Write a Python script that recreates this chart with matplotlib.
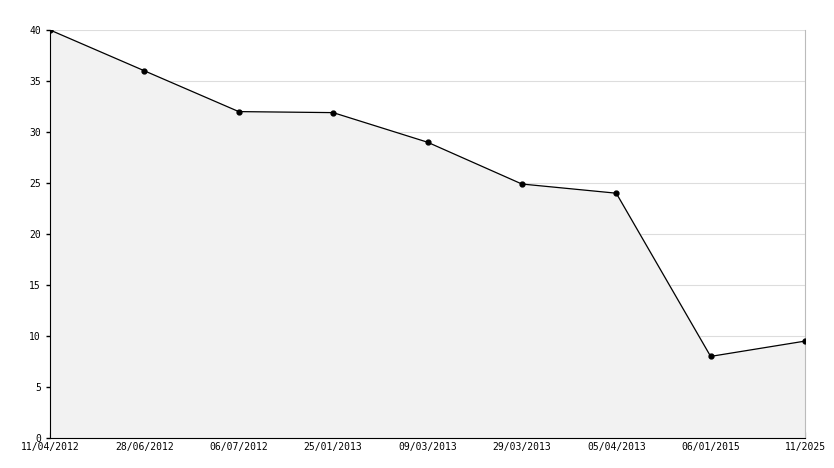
import matplotlib.pyplot as plt
from matplotlib.ticker import MultipleLocator

# 数据
dates = ['11/04/2012', '28/06/2012', '06/07/2012', '25/01/2013', '09/03/2013',
         '29/03/2013', '05/04/2013', '06/01/2015', '11/2025']
values = [40, 36, 32, 31.9, 29, 24.9, 24, 8, 9.5]

fig = plt.figure(figsize=(8.34, 4.68), dpi=100)
ax = fig.add_axes([50 / 834, 30 / 468, 755 / 834, 408 / 468])

x = list(range(len(dates)))
ax.fill_between(x, values, 0, color='#f2f2f2', zorder=1)
ax.plot(x, values, color='black', linewidth=0.9, marker='o', markersize=3.5, zorder=3)

ax.set_xlim(0, len(dates) - 1)
ax.set_ylim(0, 40)
ax.set_xticks(x)
ax.set_xticklabels(dates, family='DejaVu Sans Mono', fontsize=7)
ax.yaxis.set_major_locator(MultipleLocator(5))
ax.yaxis.set_minor_locator(MultipleLocator(1))
for lbl in ax.get_yticklabels():
    lbl.set_family('DejaVu Sans Mono')
    lbl.set_fontsize(7)
ax.tick_params(axis='y', which='major', direction='out', length=3, width=1)
ax.tick_params(axis='y', which='minor', direction='in', length=3, width=0.8)
ax.tick_params(axis='x', which='major', direction='in', length=4, width=0.8, pad=3)
ax.grid(axis='y', color='#dddddd', linewidth=0.8, zorder=0)
ax.set_axisbelow(True)

ax.spines['top'].set_visible(False)
ax.spines['right'].set_color('#bbbbbb')
ax.spines['right'].set_linewidth(0.8)

fig.savefig('out.png', dpi=100)
